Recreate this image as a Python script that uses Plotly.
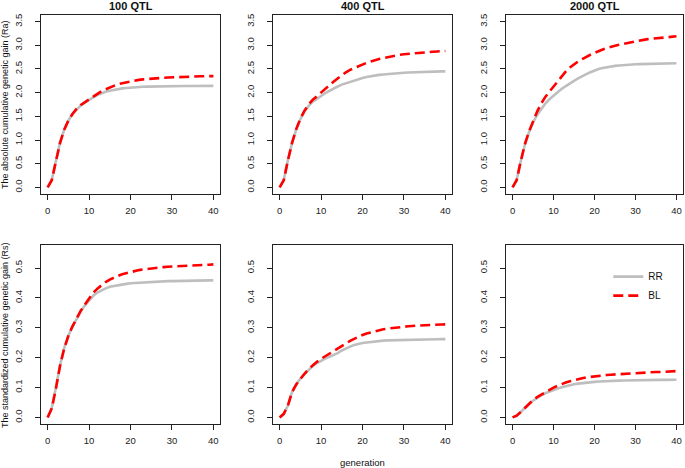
import plotly.graph_objects as go

generation = list(range(41))

panel_titles = ["100 QTL", "400 QTL", "2000 QTL"]
series_names = ["RR", "BL"]

# Absolute cumulative genetic gain (Ra)
abs_100_rr = [0.00, 0.16, 0.56, 0.95, 1.22, 1.41, 1.55, 1.65, 1.73, 1.79, 1.85, 1.90, 1.95, 1.99, 2.02, 2.04,
              2.06, 2.075, 2.09, 2.10, 2.11, 2.115, 2.12, 2.125, 2.127, 2.13, 2.132, 2.134, 2.135, 2.136, 2.137,
              2.138, 2.139, 2.14, 2.14, 2.141, 2.142, 2.142, 2.143, 2.143, 2.144]
abs_100_bl = [0.00, 0.15, 0.55, 0.94, 1.22, 1.41, 1.55, 1.66, 1.74, 1.80, 1.86, 1.92, 1.98, 2.03, 2.07, 2.11,
              2.15, 2.18, 2.20, 2.22, 2.24, 2.255, 2.27, 2.28, 2.29, 2.30, 2.305, 2.31, 2.315, 2.32, 2.325,
              2.33, 2.333, 2.336, 2.339, 2.342, 2.344, 2.346, 2.348, 2.349, 2.35]
abs_400_rr = [0.00, 0.16, 0.58, 0.94, 1.22, 1.44, 1.60, 1.72, 1.81, 1.88, 1.93, 1.99, 2.04, 2.09, 2.13, 2.17,
              2.20, 2.23, 2.26, 2.29, 2.31, 2.33, 2.35, 2.36, 2.375, 2.385, 2.395, 2.40, 2.41, 2.415, 2.42,
              2.425, 2.43, 2.435, 2.44, 2.44, 2.445, 2.445, 2.45, 2.45, 2.45]
abs_400_bl = [0.00, 0.15, 0.57, 0.94, 1.23, 1.45, 1.62, 1.75, 1.85, 1.93, 2.00, 2.08, 2.16, 2.23, 2.30, 2.37,
              2.43, 2.48, 2.52, 2.56, 2.60, 2.63, 2.66, 2.69, 2.71, 2.73, 2.75, 2.77, 2.78, 2.80, 2.81,
              2.82, 2.83, 2.84, 2.85, 2.855, 2.86, 2.865, 2.87, 2.875, 2.88]
abs_2000_rr = [0.00, 0.16, 0.55, 0.90, 1.16, 1.37, 1.53, 1.66, 1.77, 1.86, 1.94, 2.01, 2.08, 2.14, 2.20, 2.25,
               2.30, 2.35, 2.39, 2.43, 2.47, 2.50, 2.52, 2.54, 2.555, 2.565, 2.575, 2.585, 2.59, 2.595, 2.60,
               2.603, 2.606, 2.609, 2.611, 2.613, 2.615, 2.616, 2.617, 2.618, 2.62]
abs_2000_bl = [0.00, 0.15, 0.55, 0.91, 1.18, 1.40, 1.60, 1.77, 1.91, 2.02, 2.13, 2.24, 2.35, 2.45, 2.53, 2.60,
               2.66, 2.71, 2.76, 2.80, 2.84, 2.88, 2.91, 2.94, 2.97, 2.99, 3.01, 3.03, 3.05, 3.07, 3.09,
               3.10, 3.115, 3.13, 3.14, 3.15, 3.16, 3.17, 3.18, 3.185, 3.19]

# Standardized cumulative genetic gain (Rs)
std_100_rr = [0.000, 0.032, 0.100, 0.175, 0.232, 0.273, 0.304, 0.330, 0.355, 0.375, 0.393, 0.407, 0.418, 0.426,
              0.432, 0.437, 0.440, 0.443, 0.445, 0.447, 0.449, 0.450, 0.451, 0.452, 0.453, 0.454, 0.4545,
              0.455, 0.4555, 0.456, 0.456, 0.4565, 0.457, 0.457, 0.4575, 0.4575, 0.458, 0.458, 0.458, 0.4585,
              0.4585]
std_100_bl = [0.000, 0.030, 0.097, 0.173, 0.231, 0.273, 0.305, 0.332, 0.357, 0.378, 0.398, 0.417, 0.431, 0.443,
              0.453, 0.461, 0.468, 0.474, 0.479, 0.483, 0.487, 0.490, 0.493, 0.495, 0.497, 0.499, 0.5005,
              0.502, 0.503, 0.504, 0.505, 0.506, 0.507, 0.5075, 0.508, 0.509, 0.5095, 0.510, 0.5105, 0.511,
              0.512]
std_400_rr = [0.000, 0.012, 0.040, 0.085, 0.110, 0.130, 0.145, 0.160, 0.172, 0.182, 0.190, 0.197, 0.203, 0.209,
              0.215, 0.224, 0.231, 0.237, 0.242, 0.246, 0.249, 0.251, 0.253, 0.255, 0.256, 0.257, 0.258,
              0.2585, 0.259, 0.2595, 0.260, 0.2603, 0.2606, 0.261, 0.261, 0.2612, 0.2614, 0.2616, 0.2618,
              0.262, 0.262]
std_400_bl = [0.000, 0.012, 0.040, 0.085, 0.110, 0.130, 0.146, 0.162, 0.175, 0.186, 0.196, 0.205, 0.214, 0.222,
              0.231, 0.240, 0.248, 0.256, 0.263, 0.270, 0.276, 0.281, 0.285, 0.289, 0.292, 0.295, 0.297,
              0.299, 0.301, 0.303, 0.304, 0.305, 0.306, 0.307, 0.308, 0.309, 0.3095, 0.310, 0.3105, 0.311,
              0.3115]
std_2000_rr = [0.000, 0.006, 0.018, 0.032, 0.045, 0.056, 0.066, 0.074, 0.081, 0.087, 0.092, 0.097, 0.101, 0.105,
               0.108, 0.111, 0.113, 0.115, 0.117, 0.118, 0.119, 0.120, 0.121, 0.122, 0.122, 0.123, 0.123,
               0.1235, 0.124, 0.124, 0.124, 0.1243, 0.1246, 0.1249, 0.1252, 0.1254, 0.1256, 0.1257, 0.1258,
               0.1259, 0.126]
std_2000_bl = [0.000, 0.006, 0.018, 0.032, 0.046, 0.058, 0.068, 0.076, 0.085, 0.093, 0.100, 0.106, 0.112, 0.117,
               0.121, 0.125, 0.128, 0.131, 0.134, 0.136, 0.138, 0.140, 0.141, 0.142, 0.143, 0.144, 0.145,
               0.146, 0.147, 0.148, 0.149, 0.1495, 0.150, 0.1505, 0.151, 0.152, 0.152, 0.153, 0.153, 0.154,
               0.155]

x_ticks = [0, 10, 20, 30, 40]
top_y_ticks = [0.0, 0.5, 1.0, 1.5, 2.0, 2.5, 3.0, 3.5]
bottom_y_ticks = [0.0, 0.1, 0.2, 0.3, 0.4, 0.5]

top_rows = [(abs_100_rr, abs_100_bl), (abs_400_rr, abs_400_bl), (abs_2000_rr, abs_2000_bl)]
bottom_rows = [(std_100_rr, std_100_bl), (std_400_rr, std_400_bl), (std_2000_rr, std_2000_bl)]

W, H = 685, 468
FONT = "Liberation Sans, Arial, Helvetica, sans-serif"
RR_COLOR = "#BEBEBE"
BL_COLOR = "#FF0000"

x_px = [(41, 220), (273, 452), (506, 683)]
y_px = [(15, 194), (245, 424)]

fig = go.Figure()
layout = dict(
    width=W, height=H, margin=dict(l=0, r=0, t=0, b=0),
    paper_bgcolor="white", plot_bgcolor="white",
    font=dict(family=FONT, size=10, color="#111"),
    showlegend=True,
    legend=dict(x=0.888, y=0.44, xanchor="left", yanchor="top", bgcolor="rgba(0,0,0,0)",
                font=dict(size=10, family=FONT, color="#111"), tracegroupgap=0, itemwidth=30),
)

annotations = []
idx = 0
for r, rows in enumerate([top_rows, bottom_rows]):
    for c, (rr, bl) in enumerate(rows):
        idx += 1
        xa = "x" if idx == 1 else f"x{idx}"
        ya = "y" if idx == 1 else f"y{idx}"
        show = (r == 1 and c == 2)
        fig.add_trace(go.Scatter(x=generation, y=rr, mode="lines", name=series_names[0],
                                 line=dict(color=RR_COLOR, width=2.6), xaxis=xa, yaxis=ya,
                                 showlegend=show, hoverinfo="skip"))
        fig.add_trace(go.Scatter(x=generation, y=bl, mode="lines", name=series_names[1],
                                 line=dict(color=BL_COLOR, width=2.6, dash="10px,5px"), xaxis=xa, yaxis=ya,
                                 showlegend=show, hoverinfo="skip"))
        x0, x1 = x_px[c]
        y0, y1 = y_px[r]
        axis_common = dict(showline=True, mirror=True, linecolor="#222", linewidth=1,
                           ticks="outside", ticklen=5, tickwidth=1, tickcolor="#222",
                           showgrid=False, zeroline=False,
                           tickfont=dict(size=9.5, family=FONT, color="#222"))
        layout["xaxis" if idx == 1 else f"xaxis{idx}"] = dict(
            domain=[x0 / W, x1 / W], anchor=ya, range=[-1.6, 41.6],
            tickvals=x_ticks, ticktext=[str(v) for v in x_ticks], ticklabelstandoff=3, **axis_common)
        if r == 0:
            yt = top_y_ticks
            yr = [-0.14, 3.64]
        else:
            yt = bottom_y_ticks
            yr = [-0.022, 0.577]
        layout["yaxis" if idx == 1 else f"yaxis{idx}"] = dict(
            domain=[1 - y1 / H, 1 - y0 / H], anchor=xa, range=yr,
            tickvals=yt, ticktext=[f"{v:.1f}" for v in yt], tickangle=-90, ticklabelstandoff=9,
            **axis_common)
        if r == 0:
            annotations.append(dict(text=f"<b>{panel_titles[c]}</b>", x=(x0 + x1) / 2 / W, y=1 - 6 / H,
                                    xref="paper", yref="paper", showarrow=False,
                                    font=dict(size=11, family=FONT, color="#111"),
                                    xanchor="center", yanchor="middle"))

annotations.append(dict(text="The absolute cumulative genetic gain (Ra)", x=5 / W, y=1 - 105 / H,
                        xref="paper", yref="paper", showarrow=False, textangle=-90,
                        font=dict(size=9, family=FONT, color="#111"), xanchor="center", yanchor="middle"))
annotations.append(dict(text="The standardized cumulative genetic gain (Rs)", x=5 / W, y=1 - 335 / H,
                        xref="paper", yref="paper", showarrow=False, textangle=-90,
                        font=dict(size=9, family=FONT, color="#111"), xanchor="center", yanchor="middle"))
annotations.append(dict(text="generation", x=362 / W, y=1 - 462 / H,
                        xref="paper", yref="paper", showarrow=False,
                        font=dict(size=9.5, family=FONT, color="#111"), xanchor="center", yanchor="middle"))
layout["annotations"] = annotations

fig.update_layout(**layout)
fig.write_html("out.html", config={"displayModeBar": False},
               post_script="document.body.style.margin='0';document.body.style.padding='0';"
                           "document.body.style.overflow='hidden';")
